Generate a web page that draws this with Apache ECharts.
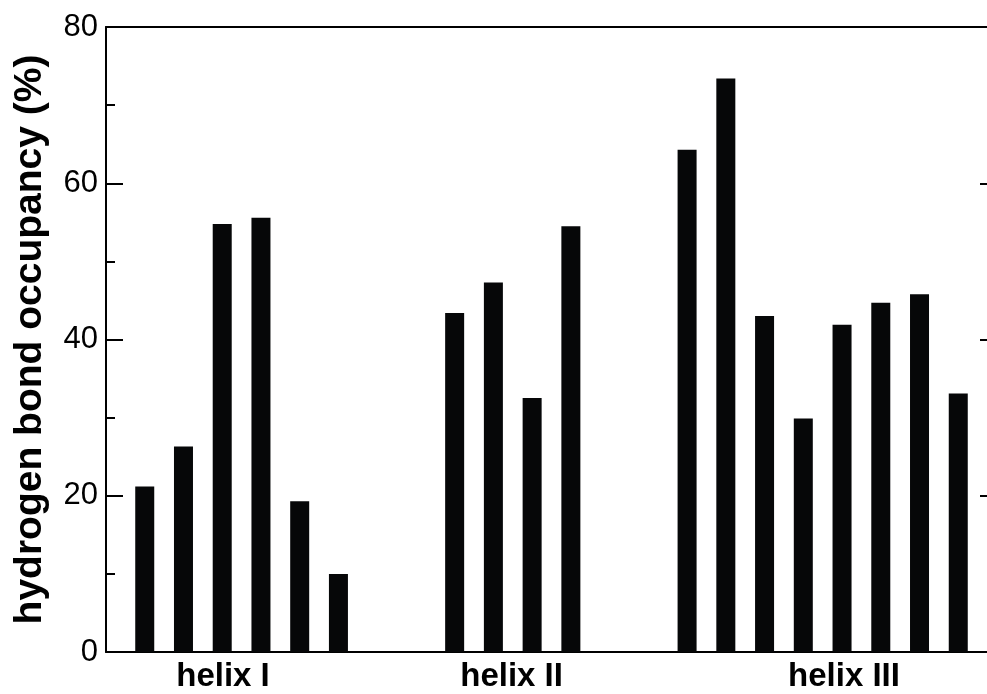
<!DOCTYPE html>
<html>
<head>
<meta charset="utf-8">
<script src="https://cdn.jsdelivr.net/npm/echarts@6/dist/echarts.min.js"></script>
<style>
html,body{margin:0;padding:0;background:#fff;overflow:hidden;width:987px;height:694px;}
#chart{width:1004px;height:694px;}
</style>
</head>
<body>
<div id="chart"></div>
<script>
// ---- data ----
const helix1Pos = [0, 1, 2, 3, 4, 5];
const helix1Occ = [21.2, 26.3, 54.8, 55.6, 19.3, 10.0];
const helix2Pos = [8, 9, 10, 11];
const helix2Occ = [43.4, 47.3, 32.5, 54.5];
const helix3Pos = [14, 15, 16, 17, 18, 19, 20, 21];
const helix3Occ = [64.3, 73.4, 43.0, 29.9, 41.9, 44.7, 45.8, 33.1];
const helixNames = ['helix I', 'helix II', 'helix III'];
const helixLabelAt = [2.02, 9.47, 18.05];
const yTicks = [0, 20, 40, 60, 80];
const yTitle = 'hydrogen bond occupancy (%)';

const pairs = (xs, ys) => xs.map((x, i) => [x, ys[i]]);
const allData = [].concat(pairs(helix1Pos, helix1Occ), pairs(helix2Pos, helix2Occ), pairs(helix3Pos, helix3Occ));

const FONT = '"Liberation Sans", Arial, Helvetica, sans-serif';
const chart = echarts.init(document.getElementById('chart'), null, {renderer: 'canvas'});
chart.setOption({
  animation: false,
  backgroundColor: '#fff',
  grid: {left: 106, right: 7, top: 27, bottom: 42, containLabel: false, outerBoundsMode: 'none'},
  xAxis: [{
    type: 'value', min: -1, max: 22, position: 'bottom',
    axisLine: {show: true, lineStyle: {color: '#000', width: 2}},
    axisTick: {show: false},
    splitLine: {show: false},
    axisLabel: {
      show: true, margin: 8,
      customValues: helixLabelAt,
      formatter: (v) => { const i = helixLabelAt.findIndex(p => Math.abs(p - v) < 1e-6); return i >= 0 ? helixNames[i] : ''; },
      color: '#000', fontFamily: FONT, fontWeight: 'bold', fontSize: 33
    }
  }, {
    type: 'value', min: -1, max: 22, position: 'top',
    axisLine: {show: true, onZero: false, lineStyle: {color: '#000', width: 2}},
    axisTick: {show: false}, axisLabel: {show: false}, splitLine: {show: false}
  }],
  yAxis: [{
    type: 'value', min: yTicks[0], max: yTicks[yTicks.length - 1], interval: 20, position: 'left',
    name: yTitle, nameLocation: 'middle', nameGap: 56, nameRotate: 90,
    nameTextStyle: {color: '#000', fontFamily: FONT, fontWeight: 'bold', fontSize: 39},
    axisLine: {show: true, onZero: false, lineStyle: {color: '#000', width: 2}},
    axisTick: {show: true, inside: true, length: 17, lineStyle: {color: '#000', width: 2}},
    minorTick: {show: true, splitNumber: 2, length: 9, lineStyle: {color: '#000', width: 2}},
    splitLine: {show: false},
    axisLabel: {color: '#000', fontFamily: FONT, fontSize: 31, margin: 8}
  }, {
    type: 'value', min: yTicks[0], max: yTicks[yTicks.length - 1], interval: 20, position: 'right',
    axisLine: {show: true, onZero: false, lineStyle: {color: '#000', width: 2}},
    axisTick: {show: true, inside: true, length: 17, lineStyle: {color: '#000', width: 2}},
    minorTick: {show: true, splitNumber: 2, length: 9, lineStyle: {color: '#000', width: 2}},
    splitLine: {show: false},
    axisLabel: {show: false}
  }],
  series: [{
    type: 'bar',
    data: allData,
    barWidth: 19,
    itemStyle: {color: '#060708'},
    silent: true
  }]
});
</script>
</body>
</html>
